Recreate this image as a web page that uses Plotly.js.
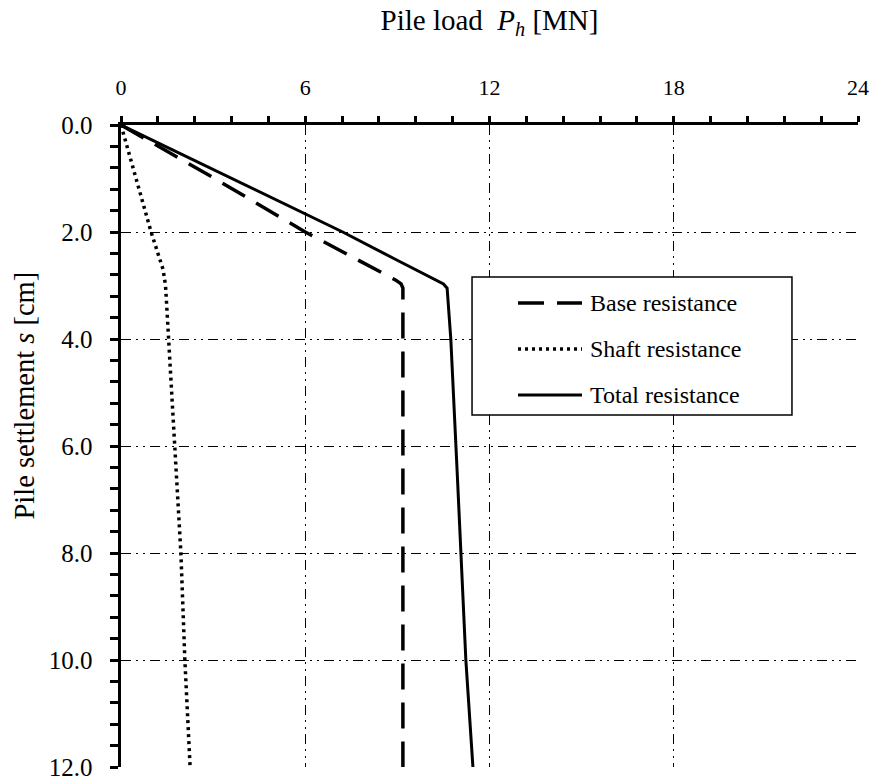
<!DOCTYPE html>
<html>
<head>
<meta charset="utf-8">
<script src="https://cdn.plot.ly/plotly-3.0.1.min.js"></script>
<style>html,body{margin:0;padding:0;background:#fff;}#chart{width:879px;height:783px;}</style>
</head>
<body>
<div id="chart"></div>
<script>
// Pile settlement s [cm] vs. pile load P_h [MN]
const baseS  = [0, 1.0, 2.0, 2.5, 2.9, 2.97, 3.05, 12];
const baseP  = [0, 3.05, 6.0, 7.65, 8.95, 9.12, 9.18, 9.18];
const shaftS = [0, 1.0, 2.0, 2.7, 3.0, 4.0, 6.0, 8.0, 10.0, 12.0];
const shaftP = [0, 0.48, 0.98, 1.37, 1.45, 1.55, 1.76, 1.95, 2.08, 2.25];
const totalS = [0, 1.0, 2.0, 2.5, 2.9, 2.97, 3.05, 4.0, 6.64, 10.0, 12.0];
const totalP = [0, 3.62, 7.22, 8.9, 10.22, 10.5, 10.62, 10.74, 10.96, 11.23, 11.46];
const seriesNames = ['Base resistance', 'Shaft resistance', 'Total resistance'];
const xTicks = [0, 6, 12, 18, 24];
const yTicks = [0, 2, 4, 6, 8, 10, 12];

const FONT = 'Liberation Serif, Times New Roman, serif';
const gridDash = '10px,5px,2px,5px,2px,5px';
const lineStyles = [
  {color: 'black', width: 3.5, dash: '26px,13px'},
  {color: 'black', width: 3.5, dash: '3px,4px'},
  {color: 'black', width: 3, dash: 'solid'}
];

const traces = [
  {x: baseP, y: baseS, name: seriesNames[0], mode: 'lines', line: lineStyles[0]},
  {x: shaftP, y: shaftS, name: seriesNames[1], mode: 'lines', line: lineStyles[1]},
  {x: totalP, y: totalS, name: seriesNames[2], mode: 'lines', line: lineStyles[2]}
];

// legend box (paper coordinates)
const legBox = {x0: 0.4763, x1: 0.9104, y0: 0.5483, y1: 0.7632};
const legRows = [0.7227, 0.6511, 0.5794];
const legLineX = [0.5387, 0.6255];
const legTextX = 0.6337;

const shapes = [{
  type: 'rect', xref: 'paper', yref: 'paper', layer: 'above',
  x0: legBox.x0, x1: legBox.x1, y0: legBox.y0, y1: legBox.y1,
  fillcolor: 'white', line: {color: 'black', width: 1.5}
}];
const annotations = [{
  text: 'Pile settlement <i>s</i> [cm]', textangle: -90,
  xref: 'paper', yref: 'paper', x: -0.131, y: 0.5794,
  xanchor: 'center', yanchor: 'middle', showarrow: false,
  font: {family: FONT, size: 28.5, color: 'black'}
}];
seriesNames.forEach((nm, i) => {
  shapes.push({
    type: 'line', xref: 'paper', yref: 'paper', layer: 'above',
    x0: legLineX[0], x1: legLineX[1], y0: legRows[i], y1: legRows[i],
    line: lineStyles[i]
  });
  annotations.push({
    text: nm, xref: 'paper', yref: 'paper', x: legTextX, y: legRows[i],
    xanchor: 'left', yanchor: 'middle', showarrow: false,
    font: {family: FONT, size: 24, color: 'black'}
  });
});

const layout = {
  width: 879, height: 783,
  margin: {l: 121, r: 21, t: 125, b: 16},
  paper_bgcolor: 'white', plot_bgcolor: 'white',
  font: {family: FONT, color: 'black'},
  showlegend: false,
  xaxis: {
    side: 'top', range: [0, 24], tickvals: xTicks, ticktext: xTicks.map(String),
    showline: true, linecolor: 'black', linewidth: 3.5,
    ticks: 'outside', ticklen: 6, tickwidth: 3, tickcolor: 'black',
    ticklabelstandoff: 12,
    tickfont: {family: FONT, size: 22, color: 'black'},
    showgrid: true, gridcolor: 'black', gridwidth: 1, griddash: gridDash,
    zeroline: false,
    minor: {dtick: 1.2, ticks: 'outside', ticklen: 6, tickwidth: 3, tickcolor: 'black', showgrid: false},
    title: {text: 'Pile load  <i>P</i><sub><i>h</i></sub> [MN]', font: {family: FONT, size: 29, color: 'black'}, standoff: 36}
  },
  yaxis: {
    range: [12, 0], tickvals: yTicks, ticktext: yTicks.map(v => v.toFixed(1)),
    showline: true, linecolor: 'black', linewidth: 3.5,
    ticks: 'outside', ticklen: 8, tickwidth: 3, tickcolor: 'black',
    ticklabelstandoff: 12,
    tickfont: {family: FONT, size: 25, color: 'black'},
    showgrid: true, gridcolor: 'black', gridwidth: 1, griddash: gridDash,
    zeroline: false,
    minor: {dtick: 0.4, ticks: 'outside', ticklen: 8, tickwidth: 3, tickcolor: 'black', showgrid: false}
  },
  shapes: shapes,
  annotations: annotations
};

Plotly.newPlot('chart', traces, layout, {displayModeBar: false, staticPlot: true});
</script>
</body>
</html>
